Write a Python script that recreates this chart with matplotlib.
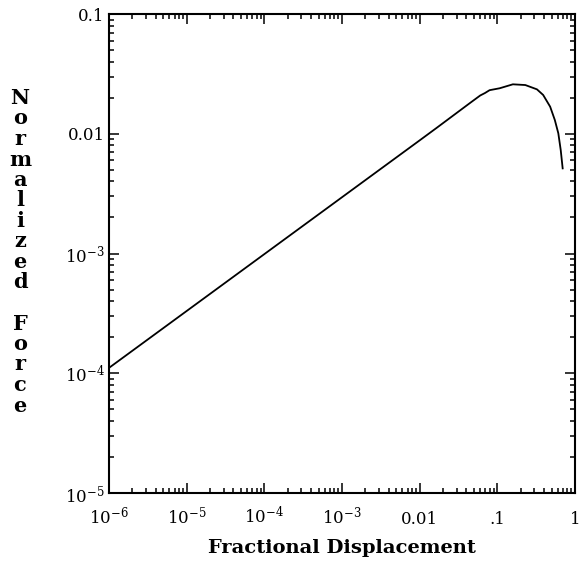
import numpy as np
import matplotlib
matplotlib.use("Agg")
import matplotlib.pyplot as plt
from matplotlib.ticker import LogLocator, NullFormatter, FixedLocator, FixedFormatter

plt.rcParams['font.family'] = ['DejaVu Serif']
plt.rcParams['mathtext.fontset'] = 'dejavuserif'

# data (log10 values)
log_disp = [-6.0, -5.0, -4.0, -3.0, -2.0, -1.78, -1.35, -1.22, -1.16,
            -1.10, -0.97, -0.80, -0.64, -0.49, -0.41, -0.32, -0.26, -0.215,
            -0.184, -0.159]
log_force = [-3.955, -3.48, -3.005, -2.53, -2.055, -1.95, -1.742, -1.680,
             -1.660, -1.636, -1.620, -1.587, -1.593, -1.629, -1.676, -1.774,
             -1.885, -1.996, -2.136, -2.289]

x_ticks = [1e-6, 1e-5, 1e-4, 1e-3, 1e-2, 1e-1, 1]
x_labels = [r'$\mathregular{10^{-6}}$', r'$\mathregular{10^{-5}}$', r'$\mathregular{10^{-4}}$',
            r'$\mathregular{10^{-3}}$', '0.01', '.1', '1']
y_ticks = [1e-5, 1e-4, 1e-3, 1e-2, 1e-1]
y_labels = [r'$\mathregular{10^{-5}}$', r'$\mathregular{10^{-4}}$', r'$\mathregular{10^{-3}}$',
            '0.01', '0.1']

x_title = 'Fractional Displacement'
y_title = 'Normalized Force'

disp = 10 ** np.array(log_disp)
force = 10 ** np.array(log_force)

fig = plt.figure(figsize=(5.81, 5.61), dpi=100)
ax = fig.add_axes([0.1876, 0.1212, 0.8021, 0.8538])
ax.plot(disp, force, color='black', lw=1.3, solid_joinstyle='round')
ax.set_xscale('log')
ax.set_yscale('log')
ax.set_xlim(1e-6, 1)
ax.set_ylim(1e-5, 0.1)

ax.xaxis.set_major_locator(FixedLocator(x_ticks))
ax.xaxis.set_major_formatter(FixedFormatter(x_labels))
ax.yaxis.set_major_locator(FixedLocator(y_ticks))
ax.yaxis.set_major_formatter(FixedFormatter(y_labels))
ax.xaxis.set_minor_locator(LogLocator(base=10, subs=np.arange(2, 10), numticks=20))
ax.yaxis.set_minor_locator(LogLocator(base=10, subs=np.arange(2, 10), numticks=20))
ax.xaxis.set_minor_formatter(NullFormatter())
ax.yaxis.set_minor_formatter(NullFormatter())

ax.tick_params(which='both', direction='in', top=True, right=True, width=1.1, colors='black')
ax.tick_params(which='major', length=7)
ax.tick_params(which='minor', length=3.5)
ax.tick_params(axis='x', which='major', labelsize=12, pad=22)
ax.tick_params(axis='y', which='major', labelsize=12, pad=3)
for lab in ax.get_xticklabels():
    lab.set_va('baseline')

for s in ax.spines.values():
    s.set_linewidth(1.5)

ax.set_xlabel(x_title, fontsize=14, fontweight='bold', labelpad=8)

# stacked vertical y label
letters = list(y_title)
y0 = 1 - 98 / 561
step = 20.5 / 561
for i, ch in enumerate(letters):
    if ch != ' ':
        fig.text(20 / 581, y0 - i * step, ch, fontsize=15, fontweight='bold',
                 ha='center', va='center')

fig.savefig('out.png', dpi=100)
